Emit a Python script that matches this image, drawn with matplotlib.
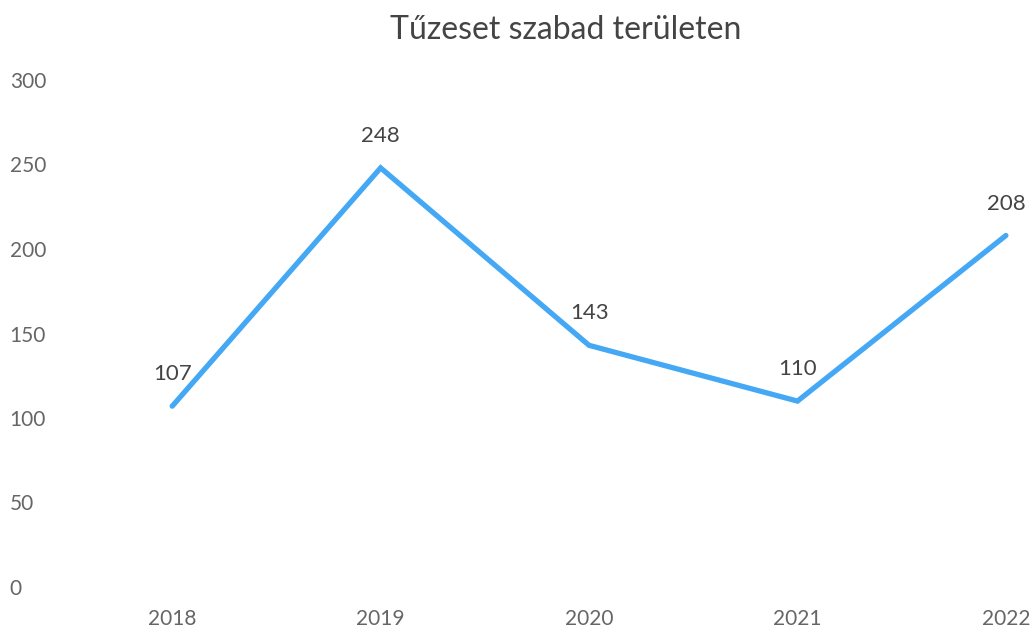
import matplotlib
matplotlib.use("Agg")
import matplotlib.pyplot as plt

years = ["2018", "2019", "2020", "2021", "2022"]
values = [107, 248, 143, 110, 208]
title = "Tűzeset szabad területen"
yticks = [0, 50, 100, 150, 200, 250, 300]

plt.rcParams['font.family'] = ['Lato', 'DejaVu Sans']

W, H = 1033, 638
fig = plt.figure(figsize=(W / 100, H / 100), dpi=100)
left_px, right_px = 68, 1033
bottom_px, top_px = 587, 80
ax = fig.add_axes([left_px / W, (H - bottom_px) / H,
                   (right_px - left_px) / W, (bottom_px - top_px) / H])

x = list(range(len(years)))
ax.plot(x, values, color="#45A8F5", linewidth=3.8, solid_capstyle="round",
        solid_joinstyle="miter")
for xi, v in zip(x, values):
    ax.annotate(str(v), (xi, v), xytext=(0, 23), textcoords="offset points",
                ha="center", va="center", fontsize=16, color="#444444")

ax.set_xlim(-0.5, 4.13)
ax.set_ylim(0, 300)
ax.set_yticks(yticks)
ax.set_yticklabels([str(t) for t in yticks])
ax.set_xticks(x)
ax.set_xticklabels(years)
ax.tick_params(axis="both", length=0, labelsize=15, colors="#666666")
ax.tick_params(axis="x", pad=16)
for lbl in ax.get_yticklabels():
    lbl.set_horizontalalignment("left")
ax.yaxis.set_tick_params(pad=42)
for s in ax.spines.values():
    s.set_visible(False)

fig.text(566 / W, 1 - 30 / H, title, ha="center", va="center",
         fontsize=23, color="#444444")

fig.savefig("out.png", dpi=100)
